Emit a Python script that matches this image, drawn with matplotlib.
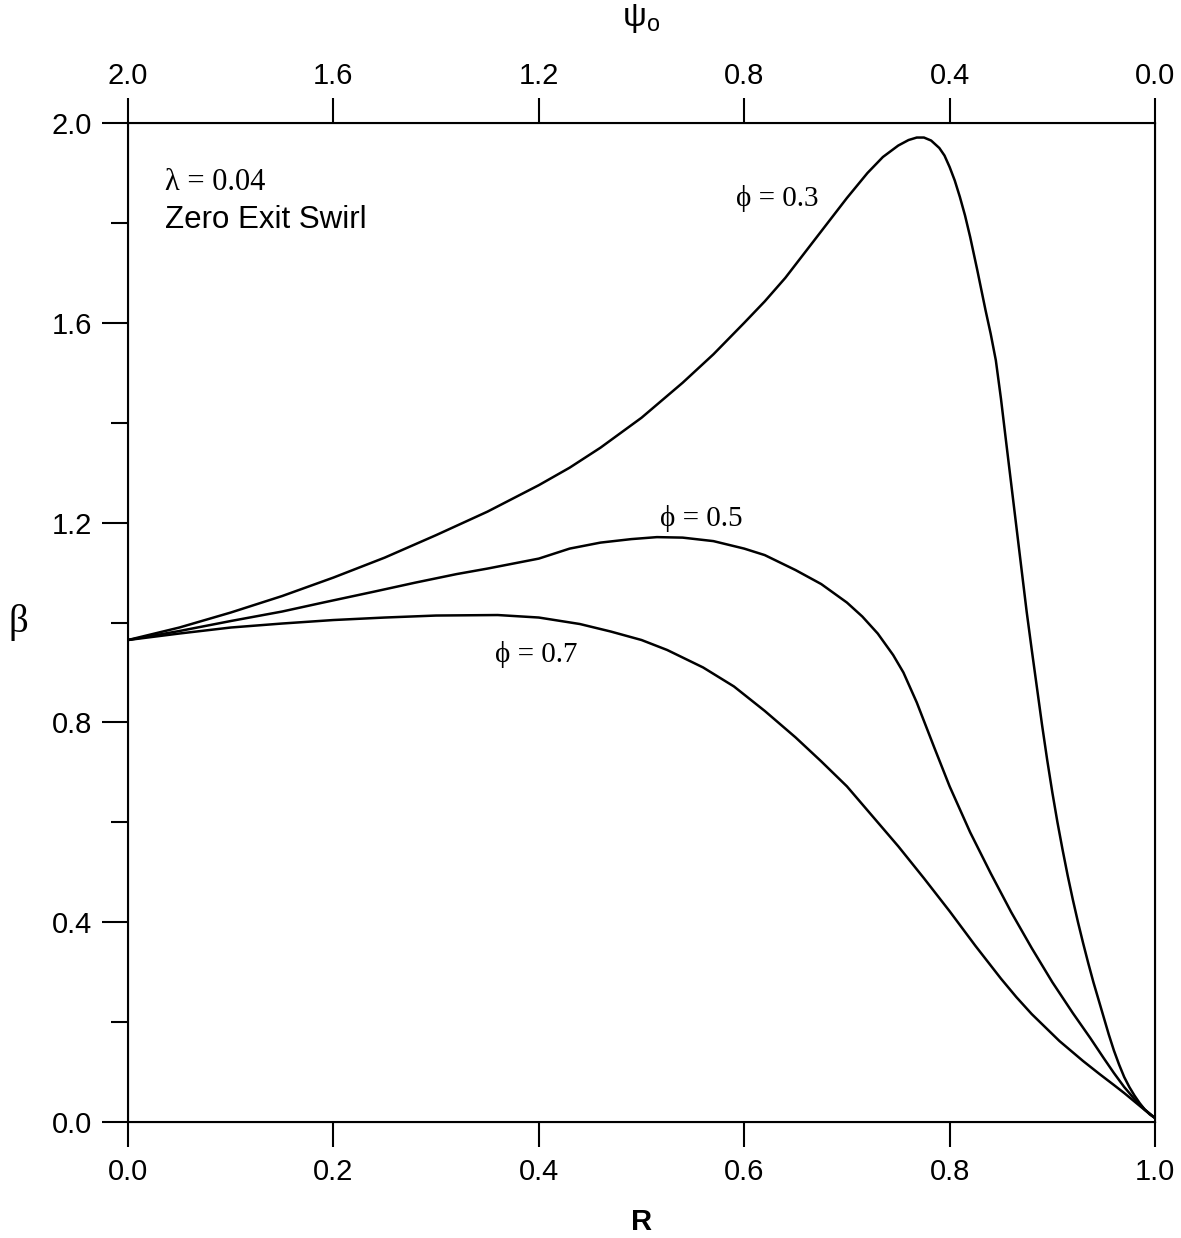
import numpy as np
import matplotlib.pyplot as plt
from matplotlib.ticker import MultipleLocator

# values (R, beta)
r_03 = [0.0, 0.05, 0.1, 0.15, 0.2, 0.25, 0.3, 0.35, 0.4, 0.43, 0.46, 0.5, 0.54, 0.57, 0.6,
        0.62, 0.64, 0.67, 0.7, 0.72, 0.735, 0.75, 0.76, 0.768, 0.775, 0.782, 0.79, 0.795,
        0.80, 0.805, 0.81, 0.815, 0.82, 0.827, 0.835, 0.84, 0.845, 0.85, 0.855, 0.86,
        0.865, 0.87, 0.875, 0.88, 0.885, 0.89, 0.895, 0.90, 0.905, 0.91, 0.915, 0.92,
        0.925, 0.93, 0.935, 0.94, 0.945, 0.95, 0.955, 0.96, 0.965, 0.97, 0.975, 0.98,
        0.985, 0.99, 0.995, 1.0]
b_03 = [0.965, 0.99, 1.02, 1.053, 1.09, 1.13, 1.175, 1.222, 1.275, 1.31, 1.35, 1.41, 1.48,
        1.537, 1.6, 1.643, 1.69, 1.77, 1.85, 1.9, 1.932, 1.955, 1.966, 1.971, 1.971, 1.965,
        1.95, 1.935, 1.912, 1.885, 1.852, 1.815, 1.772, 1.705, 1.625, 1.578, 1.525, 1.448,
        1.362, 1.277, 1.192, 1.107, 1.022, 0.945, 0.87, 0.795, 0.725, 0.66, 0.6, 0.545,
        0.493, 0.445, 0.4, 0.358, 0.318, 0.28, 0.245, 0.21, 0.175, 0.143, 0.115, 0.09,
        0.07, 0.053, 0.038, 0.025, 0.015, 0.008]

r_05 = [0.0, 0.05, 0.1, 0.15, 0.19, 0.24, 0.28, 0.32, 0.35, 0.38, 0.40, 0.415, 0.43, 0.46,
        0.49, 0.515, 0.54, 0.57, 0.6, 0.62, 0.65, 0.675, 0.70, 0.715, 0.73, 0.745, 0.755,
        0.768, 0.785, 0.80, 0.82, 0.84, 0.86, 0.88, 0.90, 0.92, 0.937, 0.95, 0.96, 0.97,
        0.98, 0.99, 1.0]
b_05 = [0.965, 0.983, 1.003, 1.022, 1.04, 1.062, 1.08, 1.097, 1.108, 1.12, 1.128, 1.138,
        1.148, 1.16, 1.167, 1.171, 1.17, 1.163, 1.148, 1.135, 1.105, 1.077, 1.04, 1.012,
        0.978, 0.935, 0.9, 0.84, 0.75, 0.672, 0.58, 0.498, 0.42, 0.348, 0.28, 0.218,
        0.168, 0.128, 0.098, 0.07, 0.046, 0.025, 0.008]

r_07 = [0.0, 0.05, 0.1, 0.15, 0.2, 0.25, 0.3, 0.36, 0.4, 0.44, 0.47, 0.5, 0.525, 0.56,
        0.59, 0.62, 0.65, 0.675, 0.70, 0.725, 0.75, 0.775, 0.80, 0.825, 0.85, 0.865, 0.88,
        0.907, 0.93, 0.946, 0.96, 0.97, 0.98, 0.99, 1.0]
b_07 = [0.965, 0.978, 0.99, 0.998, 1.005, 1.01, 1.014, 1.015, 1.01, 0.997, 0.982, 0.965,
        0.945, 0.91, 0.872, 0.823, 0.77, 0.722, 0.672, 0.612, 0.552, 0.488, 0.422, 0.353,
        0.287, 0.25, 0.216, 0.162, 0.122, 0.096, 0.074, 0.058, 0.041, 0.024, 0.008]

psi_ticks = [2.0, 1.6, 1.2, 0.8, 0.4, 0.0]

sans = 'Liberation Sans'
serif = ['Liberation Serif', 'DejaVu Serif']

fig = plt.figure(figsize=(11.81, 12.38), dpi=100)
ax = fig.add_axes([0.1084, 0.0937, 0.8696, 0.8069])

for r, b in [(r_03, b_03), (r_05, b_05), (r_07, b_07)]:
    ax.plot(r, b, color='black', lw=1.8, solid_joinstyle='round')

ax.set_xlim(0, 1.0)
ax.set_ylim(0, 2.0)
ax.xaxis.set_major_locator(MultipleLocator(0.2))
ax.yaxis.set_major_locator(MultipleLocator(0.4))
ax.yaxis.set_minor_locator(MultipleLocator(0.2))
ax.set_xticklabels([f'{v:.1f}' for v in ax.get_xticks()], family=sans)
ax.set_yticklabels([f'{v:.1f}' for v in ax.get_yticks()], family=sans)
ax.tick_params(axis='x', which='major', direction='out', length=18, width=1.5,
               labelsize=21, pad=8)
ax.tick_params(axis='y', which='major', direction='out', length=19, width=1.5,
               labelsize=21, pad=7)
ax.tick_params(axis='y', which='minor', direction='out', length=12, width=1.5)
for s in ax.spines.values():
    s.set_linewidth(1.5)

top = ax.twiny()
top.set_xlim(2.0, 0.0)
top.set_xticks(psi_ticks)
top.set_xticklabels([f'{v:.1f}' for v in psi_ticks], family=sans)
top.tick_params(axis='x', direction='out', length=18, width=1.5, labelsize=21, pad=6)

ax.set_xlabel('R', family=sans, fontsize=21, fontweight='bold')
ax.xaxis.set_label_coords(0.5, -0.1)
ax.xaxis.label.set_va('center')
top.set_xlabel(r'$\mathregular{\psi_o}$', fontsize=24, family=sans)
top.xaxis.set_label_coords(0.5, 1.105)
top.xaxis.label.set_va('center')
ax.set_ylabel('β', fontsize=28, rotation=0, family=serif)
ax.yaxis.set_label_coords(-0.107, 0.5)
ax.yaxis.label.set_va('center')

ax.text(0.036, 1.88, 'λ = 0.04', fontsize=22, family=serif, va='center')
ax.text(0.036, 1.806, 'Zero Exit Swirl', fontsize=22.5, family=sans, va='center')
ax.text(0.592, 1.848, 'ϕ = 0.3', fontsize=21, family=serif, va='center')
ax.text(0.518, 1.208, 'ϕ = 0.5', fontsize=21, family=serif, va='center')
ax.text(0.357, 0.935, 'ϕ = 0.7', fontsize=21, family=serif, va='center')

fig.savefig('out.png', dpi=100)
